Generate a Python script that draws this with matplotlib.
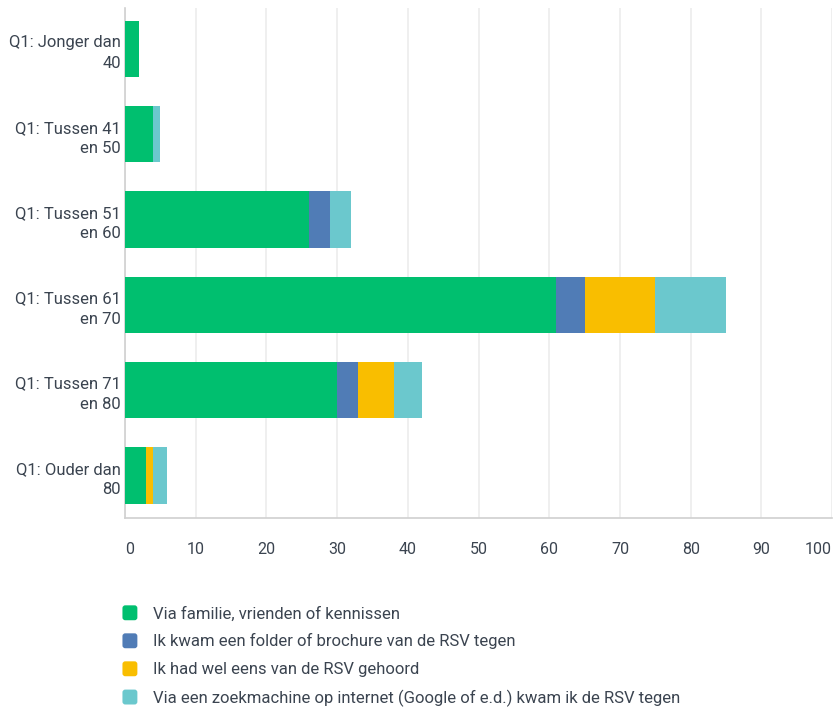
import matplotlib
matplotlib.use("Agg")
import matplotlib.pyplot as plt
from matplotlib.patches import Patch, FancyBboxPatch
from matplotlib.legend_handler import HandlerPatch

plt.rcParams['font.family'] = ['Roboto', 'DejaVu Sans']

categories = ["Q1: Jonger dan\n40", "Q1: Tussen 41\nen 50", "Q1: Tussen 51\nen 60",
              "Q1: Tussen 61\nen 70", "Q1: Tussen 71\nen 80", "Q1: Ouder dan\n80"]
series_names = ["Via familie, vrienden of kennissen",
                "Ik kwam een folder of brochure van de RSV tegen",
                "Ik had wel eens van de RSV gehoord",
                "Via een zoekmachine op internet (Google of e.d.) kwam ik de RSV tegen"]
familie = [2, 4, 26, 61, 30, 3]
folder = [0, 0, 3, 4, 3, 0]
gehoord = [0, 0, 0, 10, 5, 1]
zoekmachine = [0, 1, 3, 10, 4, 2]
xticks = [0, 10, 20, 30, 40, 50, 60, 70, 80, 90, 100]
colors = ["#00bf6f", "#507cb6", "#f9be00", "#6bc8cd"]

text_color = "#3b4450"


class RoundSquare(HandlerPatch):
    def create_artists(self, legend, orig_handle, xdescent, ydescent, width, height, fontsize, trans):
        size = min(width, height)
        p = FancyBboxPatch((-xdescent, -ydescent + (height - size) / 2), size, size,
                           boxstyle="round,pad=0,rounding_size=2",
                           facecolor=orig_handle.get_facecolor(),
                           edgecolor='none', transform=trans)
        return [p]


fig = plt.figure(figsize=(8.33, 7.11), dpi=100)
ax = fig.add_axes([0.150, 0.2714, 0.849, 0.7173])

ypos = list(range(len(categories)))
left = [0] * len(categories)
for vals, col, name in zip([familie, folder, gehoord, zoekmachine], colors, series_names):
    ax.barh(ypos, vals, left=left, color=col, height=0.66, label=name, zorder=3)
    left = [l + v for l, v in zip(left, vals)]

ax.set_xlim(0, 100)
ax.set_ylim(5.5, -0.48)
ax.set_xticks(xticks)
xl = ax.set_xticklabels([str(t) for t in xticks], color=text_color, fontsize=11.5)
xl[-1].set_horizontalalignment('right')
xl[0].set_horizontalalignment('left')
ax.set_yticks(ypos)
labels = ax.set_yticklabels(categories, color=text_color, fontsize=12)
for lab in labels:
    lab.set_linespacing(1.45)
ax.tick_params(axis='both', length=0)
ax.tick_params(axis='x', pad=17)
ax.tick_params(axis='y', pad=3)
ax.grid(axis='x', color="#ececec", linewidth=1.2, zorder=0)
for s in ['top', 'right']:
    ax.spines[s].set_visible(False)
ax.spines['left'].set_color("#d0d0d0")
ax.spines['bottom'].set_color("#d0d0d0")
ax.spines['left'].set_linewidth(1.2)
ax.spines['bottom'].set_linewidth(1.2)

handles = [Patch(facecolor=c, edgecolor=c) for c in colors]
leg = fig.legend(handles, series_names, loc='upper left',
                 bbox_to_anchor=(0.139, 0.158), frameon=False,
                 handlelength=1.0, handleheight=1.0, handletextpad=0.85,
                 labelspacing=0.71, fontsize=12, borderaxespad=0,
                 handler_map={Patch: RoundSquare()})
for t in leg.get_texts():
    t.set_color(text_color)

fig.savefig("out.png", dpi=100)
